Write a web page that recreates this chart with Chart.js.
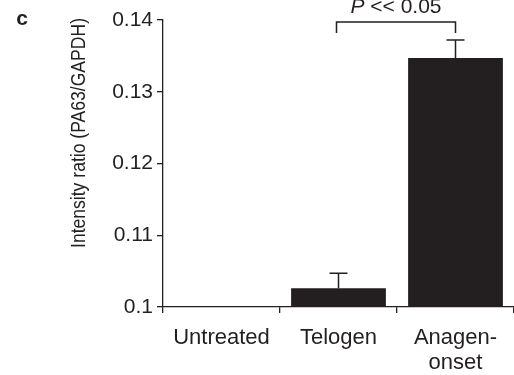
<!DOCTYPE html>
<html>
<head>
<meta charset="utf-8">
<script src="https://cdn.jsdelivr.net/npm/chart.js@4/dist/chart.umd.min.js"></script>
<style>
  html, body { margin: 0; padding: 0; background: #fff; }
  #wrap { width: 514px; height: 375px; position: relative; }
</style>
</head>
<body>
<div id="wrap"><canvas id="c"></canvas></div>
<script>
// PA63/GAPDH intensity ratio per group, with upward-only error bars.
const categories = ["Untreated", "Telogen", ["Anagen-", "onset"]];
const ratios = [0.1, 0.1026, 0.1347];
const errTops = [null, 0.1047, 0.1372];
const yTickLabels = ["0.1", "0.11", "0.12", "0.13", "0.14"];
const panelLabel = "c";
const yTitle = "Intensity ratio (PA63/GAPDH)";
const sigText = "<< 0.05";
const sigPair = [1, 2]; // bracket from Telogen to Anagen-onset

const INK = "#231f20";
const FONT = "'Liberation Sans', Arial, Helvetica, sans-serif";

// errorBars draws the error whiskers, the significance bracket and the
// free-standing texts (panel letter, condensed y title).
const errorBars = {
  id: "errorBars",
  afterDatasetsDraw(chart) {
    const { ctx } = chart;
    const y = chart.scales.y;
    const bars = chart.getDatasetMeta(0).data;
    ctx.save();
    ctx.strokeStyle = INK;
    ctx.lineWidth = 1.5;
    errTops.forEach((e, i) => {
      if (e === null) return;
      const x = bars[i].x;
      const y0 = y.getPixelForValue(ratios[i]);
      const y1 = y.getPixelForValue(e);
      ctx.beginPath();
      ctx.moveTo(x, y0);
      ctx.lineTo(x, y1);
      ctx.moveTo(x - 9, y1);
      ctx.lineTo(x + 9, y1);
      ctx.stroke();
    });

    // significance bracket
    const xa = bars[sigPair[0]].x - 2;
    const xb = bars[sigPair[1]].x;
    const top = 22, foot = 33;
    ctx.beginPath();
    ctx.moveTo(xa, foot);
    ctx.lineTo(xa, top);
    ctx.lineTo(xb, top);
    ctx.lineTo(xb, foot);
    ctx.stroke();

    ctx.fillStyle = INK;
    ctx.textBaseline = "alphabetic";
    ctx.font = "italic 21px " + FONT;
    const pW = ctx.measureText("P ").width;
    ctx.font = "21px " + FONT;
    const rW = ctx.measureText(sigText).width;
    let tx = (xa + xb) / 2 - (pW + rW) / 2;
    ctx.textAlign = "left";
    ctx.font = "italic 21px " + FONT;
    ctx.fillText("P", tx, 12.5);
    ctx.font = "21px " + FONT;
    ctx.fillText(sigText, tx + pW, 12.5);

    // panel letter
    ctx.font = "bold 21px " + FONT;
    ctx.textAlign = "center";
    ctx.textBaseline = "middle";
    ctx.fillText(panelLabel, 22, 19);

    // y title, narrow face
    ctx.font = "21px " + FONT;
    const w = ctx.measureText(yTitle).width;
    ctx.translate(79, 133);
    ctx.rotate(-Math.PI / 2);
    ctx.scale(230 / w, 1);
    ctx.fillText(yTitle, 0, 0);
    ctx.restore();
  },
};

new Chart(document.getElementById("c"), {
  type: "bar",
  data: {
    labels: categories,
    datasets: [{
      data: ratios,
      backgroundColor: INK,
      borderWidth: 0,
      barPercentage: 0.81,
      categoryPercentage: 1,
    }],
  },
  options: {
    responsive: true,
    maintainAspectRatio: false,
    animation: false,
    layout: { padding: { top: 20, right: 0, left: 0, bottom: 0 } },
    plugins: { legend: { display: false }, tooltip: { enabled: false } },
    scales: {
      x: {
        offset: true,
        afterFit: (s) => { s.height = 68; },
        grid: {
          offset: true,
          drawOnChartArea: false,
          drawTicks: true,
          tickLength: 6,
          color: INK,
          lineWidth: 1.3,
        },
        border: { display: true, color: INK, width: 1.3 },
        ticks: {
          color: INK,
          padding: 12,
          font: { family: FONT, size: 22, lineHeight: 1.15 },
          maxRotation: 0,
          autoSkip: false,
        },
      },
      y: {
        min: 0.1,
        max: 0.14,
        afterFit: (s) => { s.width = 163; },
        grid: {
          drawOnChartArea: false,
          drawTicks: true,
          tickLength: 6,
          color: INK,
          lineWidth: 1.3,
        },
        border: { display: true, color: INK, width: 1.3 },
        ticks: {
          stepSize: 0.01,
          color: INK,
          padding: 4,
          font: { family: FONT, size: 21 },
          callback: (v, i) => yTickLabels[i],
        },
      },
    },
  },
  plugins: [errorBars],
});
</script>
</body>
</html>
